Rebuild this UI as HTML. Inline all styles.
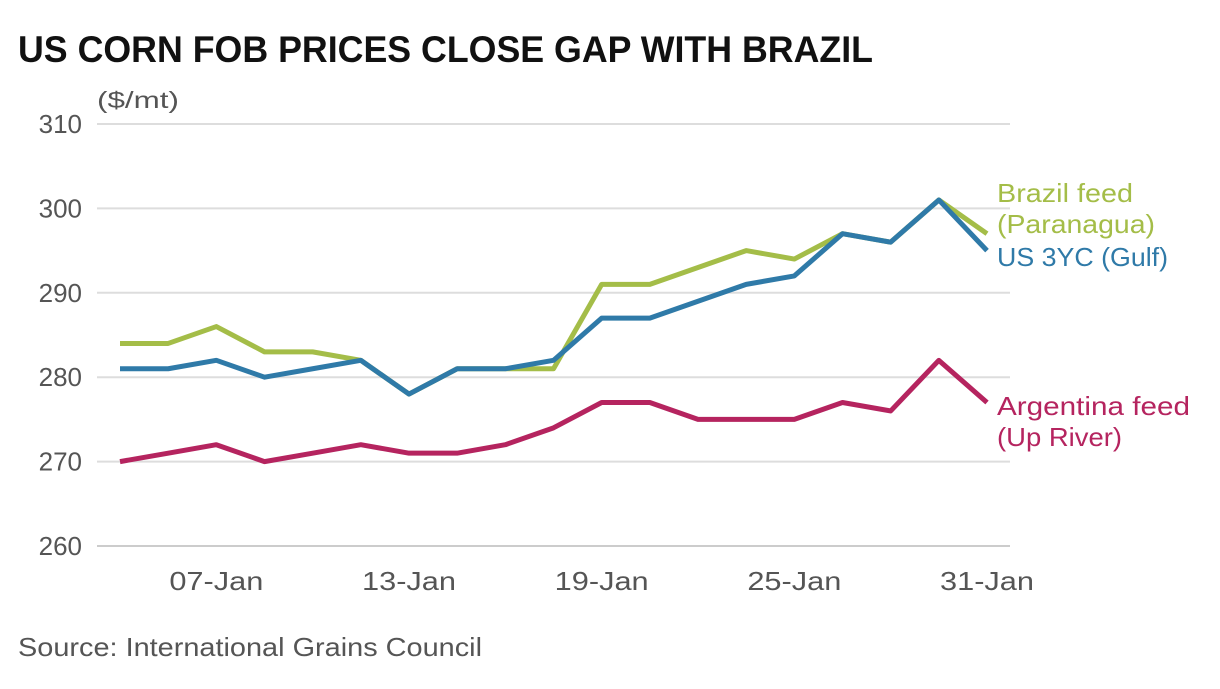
<!DOCTYPE html>
<html><head><meta charset="utf-8"><style>
body{margin:0;background:#fff;width:1220px;height:684px;overflow:hidden;font-family:"Liberation Sans",sans-serif}
</style></head><body>
<svg width="1220" height="684">
<text x="18" y="62" font-size="37" font-weight="bold" fill="#111" textLength="855" lengthAdjust="spacingAndGlyphs">US CORN FOB PRICES CLOSE GAP WITH BRAZIL</text>
<text x="97" y="108" font-size="23" fill="#555" textLength="82" lengthAdjust="spacingAndGlyphs">($/mt)</text>
<g id="grid"></g><g id="series"></g><g id="labels"></g>
<text x="18" y="656" font-size="26" fill="#555" textLength="464" lengthAdjust="spacingAndGlyphs">Source: International Grains Council</text>
</svg>
<script>
const categories=["05-Jan","06-Jan","07-Jan","08-Jan","09-Jan","12-Jan","13-Jan","14-Jan","15-Jan","16-Jan","19-Jan","20-Jan","21-Jan","22-Jan","25-Jan","26-Jan","27-Jan","28-Jan","31-Jan"];
const brazil=[284,284,286,283,283,282,278,281,281,281,291,291,293,295,294,297,296,301,297];
const us=[281,281,282,280,281,282,278,281,281,282,287,287,289,291,292,297,296,301,295];
const argentina=[270,271,272,270,271,272,271,271,272,274,277,277,275,275,275,277,276,282,277];
const yTicks=[260,270,280,290,300,310];
const xTickIdx=[2,6,10,14,18];
const NS="http://www.w3.org/2000/svg";
const x=i=>120+i*(987-120)/(categories.length-1);
const y=v=>546-(v-260)*(546-124)/50;
const grid=document.getElementById('grid'),ser=document.getElementById('series'),lab=document.getElementById('labels');
function mk(tag,a,p){const e=document.createElementNS(NS,tag);for(const k in a)e.setAttribute(k,a[k]);p.appendChild(e);return e;}
yTicks.forEach(v=>{
 const l=mk('line',{x1:97,x2:1010,y1:y(v),y2:y(v),stroke:v===260?'#ccc':'#ddd','stroke-width':2},grid);
 
 
 const t=mk('text',{x:82,y:y(v)+9,'font-size':26,fill:'#555','text-anchor':'end'},grid);t.textContent=v;
 
 
});
xTickIdx.forEach(i=>{
 const t=mk('text',{x:x(i),y:590,'font-size':26,fill:'#555','text-anchor':'middle',textLength:94,lengthAdjust:'spacingAndGlyphs'},grid);t.textContent=categories[i];
 
 
});
function line(d,c,n){const p=mk('polyline',{points:d.map((v,i)=>x(i)+','+y(v)).join(' '),fill:'none',stroke:c,'stroke-width':5,'stroke-linejoin':'round'},ser);
 
 }
line(brazil,'#a4bd48','line-brazil');
line(us,'#2f7aa8','line-us');
line(argentina,'#b5245f','line-argentina');
function lb(t,yy,c,w){const e=mk('text',{x:997,y:yy,'font-size':26,fill:c,textLength:w,lengthAdjust:'spacingAndGlyphs'},lab);e.textContent=t;
 
 }
lb('Brazil feed',202,'#a4bd48',136);lb('(Paranagua)',233,'#a4bd48',158);lb('US 3YC (Gulf)',266,'#2f7aa8',171);
lb('Argentina feed',415,'#b5245f',193);lb('(Up River)',446,'#b5245f',125);
</script>
</body></html>
